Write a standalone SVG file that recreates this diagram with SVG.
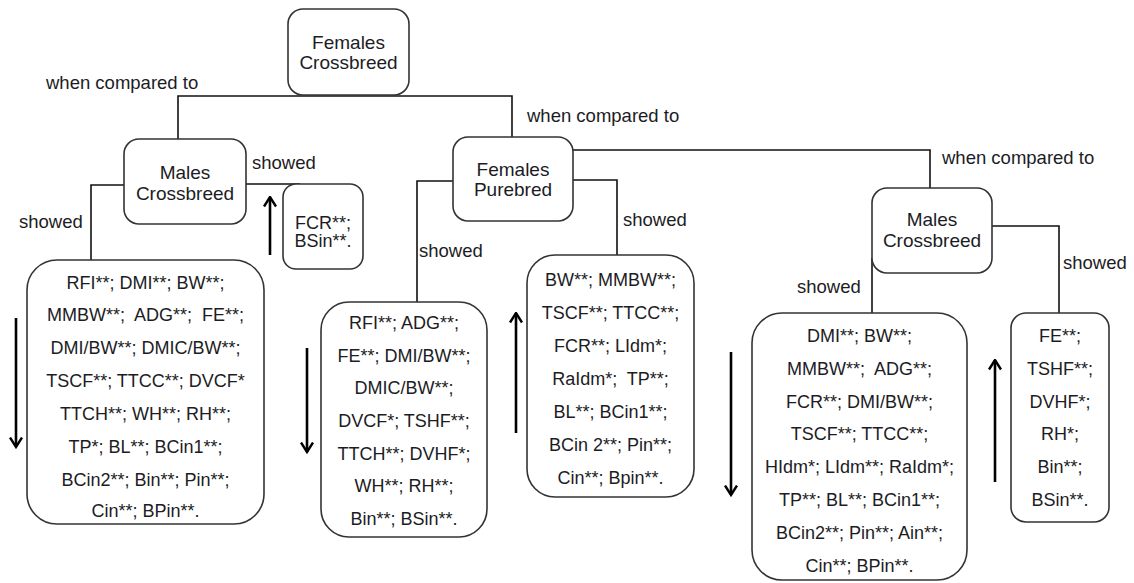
<svg xmlns="http://www.w3.org/2000/svg" width="1134" height="583" viewBox="0 0 1134 583">
<style>
.box{fill:#fff;stroke:#333;stroke-width:1.6}
.conn{fill:none;stroke:#111;stroke-width:1.6}
.arr{fill:none;stroke:#000;stroke-width:2.6}
text{font-family:"Liberation Sans",Arial,sans-serif;fill:#1c1c24;white-space:pre}
.nl{font-size:19px;text-anchor:middle}
.lb{font-size:18.5px}
.bt{font-size:18px;text-anchor:middle}
</style>
<defs>
<marker id="ah" viewBox="0 0 12 14" refX="10.5" refY="7" markerWidth="12" markerHeight="14" markerUnits="userSpaceOnUse" orient="auto">
<path d="M1,1 L10.5,7 L1,13" fill="none" stroke="#000" stroke-width="2.4"/>
</marker>
</defs>
<rect width="1134" height="583" fill="#fff"/>
<g id="connectors">
<path class="conn" d="M178,139 V96 H512 V137"/>
<path class="conn" d="M124,185 H91 V260"/>
<path class="conn" d="M246,184 H300"/>
<path class="conn" d="M453,181 H417 V302"/>
<path class="conn" d="M573,180 H617 V255"/>
<path class="conn" d="M573,150 H930 V188"/>
<path class="conn" d="M872,258 V313"/>
<path class="conn" d="M992,226 H1059 V313"/>
<line class="arr" x1="16" y1="318" x2="16" y2="447" marker-end="url(#ah)"/>
<line class="arr" x1="270" y1="255" x2="270" y2="197" marker-end="url(#ah)"/>
<line class="arr" x1="307" y1="348" x2="307" y2="452" marker-end="url(#ah)"/>
<line class="arr" x1="516" y1="433" x2="516" y2="313" marker-end="url(#ah)"/>
<line class="arr" x1="731" y1="352" x2="731" y2="495" marker-end="url(#ah)"/>
<line class="arr" x1="995" y1="482" x2="995" y2="360" marker-end="url(#ah)"/>
<text class="lb" x="46" y="89">when compared to</text>
<text class="lb" x="527" y="122">when compared to</text>
<text class="lb" x="942" y="164">when compared to</text>
<text class="lb" x="252" y="169">showed</text>
<text class="lb" x="19" y="228">showed</text>
<text class="lb" x="623" y="226">showed</text>
<text class="lb" x="419" y="257">showed</text>
<text class="lb" x="797" y="293">showed</text>
<text class="lb" x="1063" y="269">showed</text>
</g>
<g id="females-crossbreed">
<rect class="box" x="288" y="9" width="121" height="86" rx="15"/>
<text class="nl" x="348.5" y="49">Females</text>
<text class="nl" x="348.5" y="69">Crossbreed</text>
</g>
<g id="males-crossbreed-1">
<rect class="box" x="124" y="139" width="122" height="85" rx="15"/>
<text class="nl" x="185" y="179">Males</text>
<text class="nl" x="185" y="200">Crossbreed</text>
</g>
<g id="females-purebred">
<rect class="box" x="453" y="137" width="120" height="84" rx="15"/>
<text class="nl" x="513" y="176">Females</text>
<text class="nl" x="513" y="196">Purebred</text>
</g>
<g id="males-crossbreed-2">
<rect class="box" x="872" y="188" width="120" height="85" rx="15"/>
<text class="nl" x="932" y="226">Males</text>
<text class="nl" x="932" y="247">Crossbreed</text>
</g>
<g id="result-mc1-down">
<rect class="box" x="27" y="260" width="237" height="264" rx="30"/>
<text class="bt" x="145.5" y="288.5">RFI**; DMI**; BW**;</text>
<text class="bt" x="145.5" y="321">MMBW**;  ADG**;  FE**;</text>
<text class="bt" x="145.5" y="353.5">DMI/BW**; DMIC/BW**;</text>
<text class="bt" x="145.5" y="386.5">TSCF**; TTCC**; DVCF*</text>
<text class="bt" x="145.5" y="419.5">TTCH**; WH**; RH**;</text>
<text class="bt" x="145.5" y="452.5">TP*; BL**; BCin1**;</text>
<text class="bt" x="145.5" y="485.5">BCin2**; Bin**; Pin**;</text>
<text class="bt" x="145.5" y="517">Cin**; BPin**.</text>
</g>
<g id="result-mc1-up">
<rect class="box" x="283" y="184" width="80" height="85" rx="13"/>
<text class="bt" x="323" y="228.5">FCR**;</text>
<text class="bt" x="323" y="246.5">BSin**.</text>
</g>
<g id="result-fp-down">
<rect class="box" x="321" y="302" width="166" height="235" rx="28"/>
<text class="bt" x="404" y="328.5">RFI**; ADG**;</text>
<text class="bt" x="404" y="361.5">FE**; DMI/BW**;</text>
<text class="bt" x="404" y="394">DMIC/BW**;</text>
<text class="bt" x="404" y="426.5">DVCF*; TSHF**;</text>
<text class="bt" x="404" y="459.5">TTCH**; DVHF*;</text>
<text class="bt" x="404" y="492">WH**; RH**;</text>
<text class="bt" x="404" y="524.5">Bin**; BSin**.</text>
</g>
<g id="result-fp-up">
<rect class="box" x="527" y="255" width="167" height="242" rx="28"/>
<text class="bt" x="610.5" y="285.5">BW**; MMBW**;</text>
<text class="bt" x="610.5" y="318.5">TSCF**; TTCC**;</text>
<text class="bt" x="610.5" y="351.5">FCR**; LIdm*;</text>
<text class="bt" x="610.5" y="384.5">RaIdm*;  TP**;</text>
<text class="bt" x="610.5" y="417.5">BL**; BCin1**;</text>
<text class="bt" x="610.5" y="450.5">BCin 2**; Pin**;</text>
<text class="bt" x="610.5" y="483.5">Cin**; Bpin**.</text>
</g>
<g id="result-mc2-down">
<rect class="box" x="752" y="313" width="215" height="267" rx="30"/>
<text class="bt" x="859.5" y="341.5">DMI**; BW**;</text>
<text class="bt" x="859.5" y="374.5">MMBW**;  ADG**;</text>
<text class="bt" x="859.5" y="407.5">FCR**; DMI/BW**;</text>
<text class="bt" x="859.5" y="440">TSCF**; TTCC**;</text>
<text class="bt" x="859.5" y="473">HIdm*; LIdm**; RaIdm*;</text>
<text class="bt" x="859.5" y="505.5">TP**; BL**; BCin1**;</text>
<text class="bt" x="859.5" y="538.5">BCin2**; Pin**; Ain**;</text>
<text class="bt" x="859.5" y="571.5">Cin**; BPin**.</text>
</g>
<g id="result-mc2-up">
<rect class="box" x="1011" y="313" width="98" height="209" rx="15"/>
<text class="bt" x="1060" y="341.5">FE**;</text>
<text class="bt" x="1060" y="374.5">TSHF**;</text>
<text class="bt" x="1060" y="407.5">DVHF*;</text>
<text class="bt" x="1060" y="440">RH*;</text>
<text class="bt" x="1060" y="473">Bin**;</text>
<text class="bt" x="1060" y="505.5">BSin**.</text>
</g>
</svg>
